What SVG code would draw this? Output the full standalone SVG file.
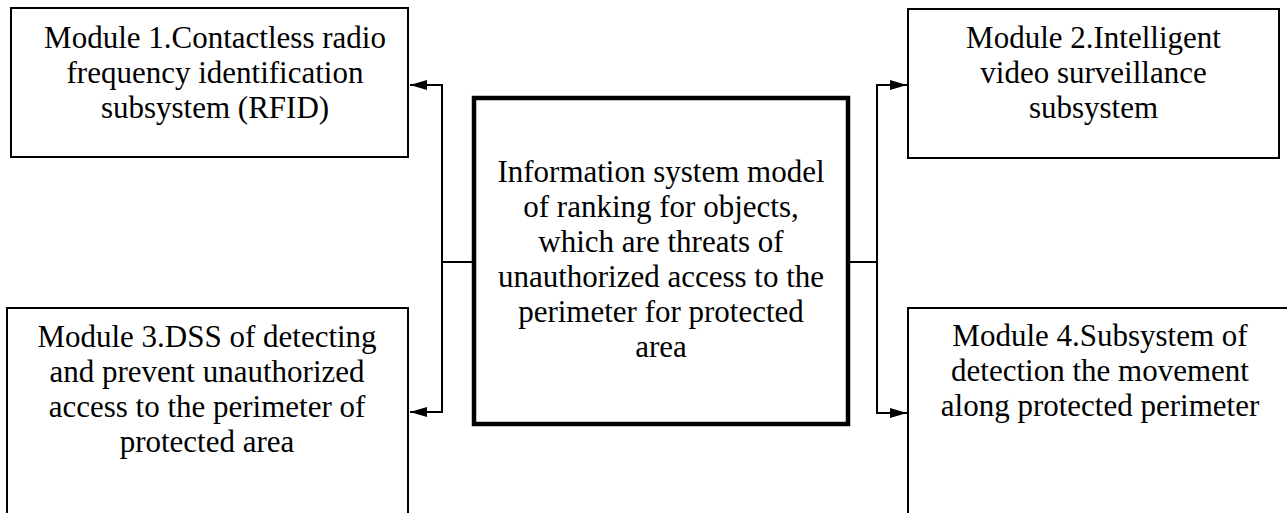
<svg xmlns="http://www.w3.org/2000/svg" width="1287" height="513" viewBox="0 0 1287 513">
<style>
.box{fill:#fff;stroke:#000;stroke-width:2}
.main{fill:#fff;stroke:#000;stroke-width:4.5}
.t{font-family:"Liberation Serif","Times New Roman",serif;font-size:31px;fill:#000;text-anchor:middle}
.c{fill:none;stroke:#000;stroke-width:2}
</style>
<defs>
<marker id="ah" markerUnits="userSpaceOnUse" markerWidth="17" markerHeight="10" refX="17" refY="5" orient="auto">
<path d="M0,0 L17,5 L0,10 z" fill="#000"/>
</marker>
</defs>
<rect width="1287" height="513" fill="#fff"/>
<g id="connectors">
<path class="c" d="M472,262 H442 V85 H410" marker-end="url(#ah)"/>
<path class="c" d="M442,262 V412 H410" marker-end="url(#ah)"/>
<path class="c" d="M850,262 H877 V85 H907" marker-end="url(#ah)"/>
<path class="c" d="M877,262 V413 H907" marker-end="url(#ah)"/>
</g>
<g id="module1">
<rect class="box" x="11" y="8" width="397" height="149"/>
<text class="t"><tspan x="215" y="48">Module 1.Contactless radio</tspan><tspan x="215" y="83">frequency identification</tspan><tspan x="215" y="118">subsystem (RFID)</tspan></text>
</g>
<g id="module2">
<rect class="box" x="908" y="9" width="371" height="149"/>
<text class="t"><tspan x="1093.5" y="48">Module 2.Intelligent</tspan><tspan x="1093.5" y="83">video surveillance</tspan><tspan x="1093.5" y="118">subsystem</tspan></text>
</g>
<g id="module3">
<rect class="box" x="7" y="308" width="401" height="230"/>
<text class="t"><tspan x="207" y="347">Module 3.DSS of detecting</tspan><tspan x="207" y="382">and prevent unauthorized</tspan><tspan x="207" y="417">access to the perimeter of</tspan><tspan x="207" y="452">protected area</tspan></text>
</g>
<g id="module4">
<rect class="box" x="908" y="308" width="384" height="230"/>
<text class="t"><tspan x="1100" y="346">Module 4.Subsystem of</tspan><tspan x="1100" y="381">detection the movement</tspan><tspan x="1100" y="416">along protected perimeter</tspan></text>
</g>
<g id="center">
<rect class="main" x="474" y="98" width="374" height="326"/>
<text class="t"><tspan x="661" y="182">Information system model</tspan><tspan x="661" y="217">of ranking for objects,</tspan><tspan x="661" y="252">which are threats of</tspan><tspan x="661" y="287">unauthorized access to the</tspan><tspan x="661" y="322">perimeter for protected</tspan><tspan x="661" y="357">area</tspan></text>
</g>
</svg>
